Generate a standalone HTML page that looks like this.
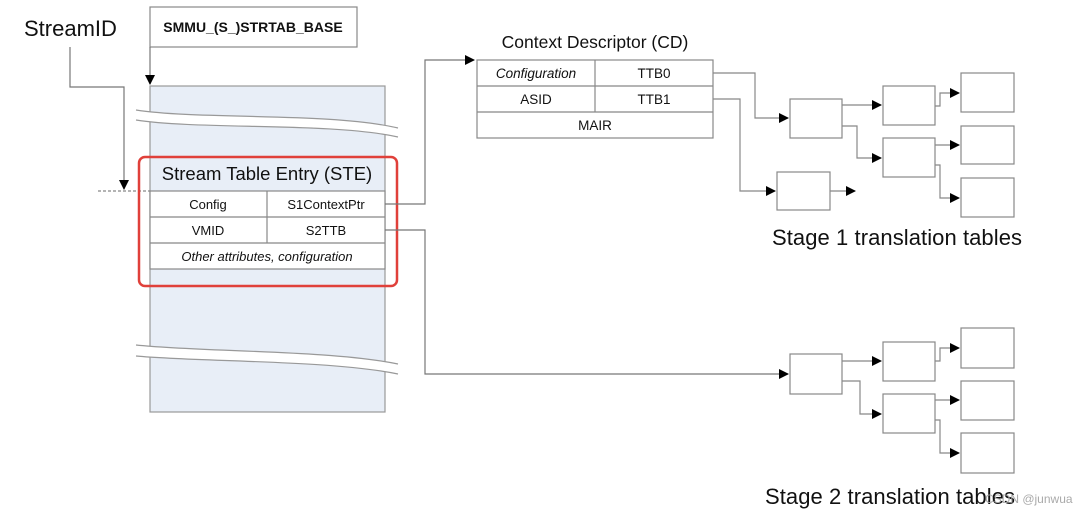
<!DOCTYPE html>
<html><head><meta charset="utf-8"><style>
html,body{margin:0;padding:0;background:#fff;}
svg{display:block;font-family:"Liberation Sans",Arial,sans-serif;}
</style></head><body>
<svg width="1080" height="519" viewBox="0 0 1080 519" xmlns="http://www.w3.org/2000/svg">
<defs><marker id="a" markerWidth="10" markerHeight="10" refX="9" refY="5" orient="auto" markerUnits="userSpaceOnUse"><path d="M0,0 L10,5 L0,10 z" fill="#000"/></marker></defs>
<g fill="none" stroke="#888" stroke-width="1.2">
<text x="24" y="36" font-size="22" fill="#111" stroke="none">StreamID</text>
<rect x="150" y="7" width="207" height="40" fill="#fff"/>
<text x="253" y="32" font-size="14" font-weight="bold" text-anchor="middle" fill="#111" stroke="none">SMMU_(S_)STRTAB_BASE</text>
<rect x="150" y="86" width="235" height="326" fill="#e8eef7" stroke="#999"/>
<path d="M150,47 V84" stroke="#777" marker-end="url(#a)"/>
<path d="M70,47 V87 H124 V189" stroke="#777" marker-end="url(#a)"/>
<path d="M98,191 H150" stroke="#888" stroke-dasharray="3,2"/>
<path d="M136,110 C200,120 330,112 398,128 L398,137 C330,122 200,130 136,120 Z" fill="#fff" stroke="none"/>
<path d="M136,110 C200,120 330,112 398,128 M136,120 C200,130 330,122 398,137" stroke="#999"/>
<path d="M136,345 C200,352 330,350 398,364 L398,374 C330,360 200,362 136,356 Z" fill="#fff" stroke="none"/>
<path d="M136,345 C200,352 330,350 398,364 M136,356 C200,362 330,360 398,374" stroke="#999"/>
<rect x="150" y="191" width="235" height="78" fill="#fff" stroke="#888"/>
<path d="M150,217 H385 M150,243 H385 M267,191 V243"/>
<text x="267" y="180" font-size="18.5" text-anchor="middle" fill="#111" stroke="none">Stream Table Entry (STE)</text>
<text x="208" y="209" font-size="13" text-anchor="middle" fill="#111" stroke="none">Config</text>
<text x="326" y="209" font-size="13" text-anchor="middle" fill="#111" stroke="none">S1ContextPtr</text>
<text x="208" y="235" font-size="13" text-anchor="middle" fill="#111" stroke="none">VMID</text>
<text x="326" y="235" font-size="13" text-anchor="middle" fill="#111" stroke="none">S2TTB</text>
<text x="267" y="261" font-size="13" font-style="italic" text-anchor="middle" fill="#111" stroke="none">Other attributes, configuration</text>
<rect x="139" y="157" width="258" height="129" rx="6" stroke="#e0403a" stroke-width="2.5"/>
<path d="M385,204 H425 V60 H474" stroke="#777" marker-end="url(#a)"/>
<path d="M385,230 H425 V374 H788" stroke="#777" marker-end="url(#a)"/>
<text x="595" y="48" font-size="17.5" text-anchor="middle" fill="#111" stroke="none">Context Descriptor (CD)</text>
<rect x="477" y="60" width="236" height="78" fill="#fff"/>
<path d="M477,86 H713 M477,112 H713 M595,60 V112"/>
<text x="536" y="78" font-size="13.5" font-style="italic" text-anchor="middle" fill="#111" stroke="none">Configuration</text>
<text x="654" y="78" font-size="13.5" text-anchor="middle" fill="#111" stroke="none">TTB0</text>
<text x="536" y="104" font-size="13.5" text-anchor="middle" fill="#111" stroke="none">ASID</text>
<text x="654" y="104" font-size="13.5" text-anchor="middle" fill="#111" stroke="none">TTB1</text>
<text x="595" y="130" font-size="13.5" text-anchor="middle" fill="#111" stroke="none">MAIR</text>
<path d="M713,73 H755 V118 H788" marker-end="url(#a)"/>
<path d="M713,99 H740 V191 H775" marker-end="url(#a)"/>
<rect x="790" y="99" width="52" height="39"/>
<rect x="883" y="86" width="52" height="39"/>
<rect x="883" y="138" width="52" height="39"/>
<rect x="777" y="172" width="53" height="38"/>
<rect x="961" y="73" width="53" height="39"/>
<rect x="961" y="126" width="53" height="38"/>
<rect x="961" y="178" width="53" height="39"/>
<path d="M830,191 H855" marker-end="url(#a)"/>
<path d="M842,105 H881" marker-end="url(#a)"/>
<path d="M842,126 H857 V158 H881" marker-end="url(#a)"/>
<path d="M935,106 H940 V93 H959" marker-end="url(#a)"/>
<path d="M935,145 H959" marker-end="url(#a)"/>
<path d="M935,165 H940 V198 H959" marker-end="url(#a)"/>
<text x="772" y="245" font-size="22" fill="#111" stroke="none" textLength="250">Stage 1 translation tables</text>
<rect x="790" y="354" width="52" height="40"/>
<rect x="883" y="342" width="52" height="39"/>
<rect x="883" y="394" width="52" height="39"/>
<rect x="961" y="328" width="53" height="40"/>
<rect x="961" y="381" width="53" height="39"/>
<rect x="961" y="433" width="53" height="40"/>
<path d="M842,361 H881" marker-end="url(#a)"/>
<path d="M842,381 H860 V414 H881" marker-end="url(#a)"/>
<path d="M935,361 H940 V348 H959" marker-end="url(#a)"/>
<path d="M935,400 H959" marker-end="url(#a)"/>
<path d="M935,420 H940 V453 H959" marker-end="url(#a)"/>
<text x="765" y="504" font-size="22" fill="#111" stroke="none" textLength="250">Stage 2 translation tables</text>
<text x="985" y="503" font-size="12" fill="#aaa" stroke="none">CSDN @junwua</text>
</g>
</svg>
</body></html>
